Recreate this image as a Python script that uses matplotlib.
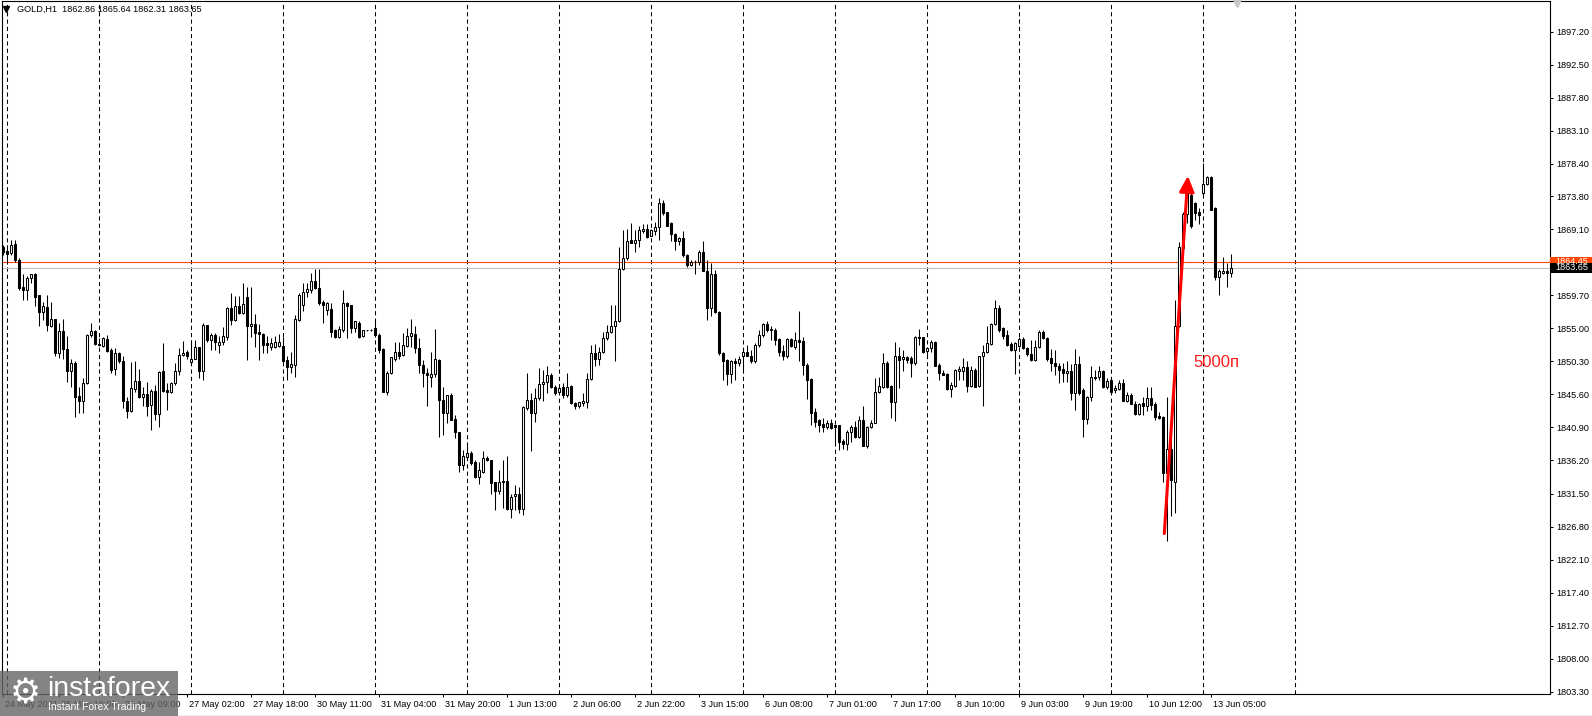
import numpy as np
import matplotlib
matplotlib.use("Agg")
import matplotlib.pyplot as plt
import matplotlib.transforms as mtransforms
from matplotlib.patches import Rectangle
from matplotlib.lines import Line2D

plt.rcParams['font.family'] = ['Liberation Sans', 'DejaVu Sans']

# Datos OHLC (GOLD, H1), vela por vela
opens = [
    1866.6, 1866.0, 1865.7, 1867.0, 1864.7, 1860.9, 1860.4, 1862.1, 1862.8, 1859.7,
    1857.3, 1858.1, 1855.4, 1856.4, 1851.5, 1854.6, 1852.1, 1849.0, 1850.1, 1845.4,
    1844.6, 1847.2, 1854.0, 1854.6, 1852.8, 1852.5, 1853.5, 1851.9, 1849.2, 1851.5,
    1850.4, 1844.7, 1843.2, 1846.4, 1847.5, 1845.3, 1845.6, 1844.1, 1846.1, 1842.8,
    1848.9, 1846.2, 1846.0, 1847.2, 1848.9, 1851.2, 1851.7, 1850.2, 1850.7, 1852.3,
    1849.0, 1855.5, 1853.3, 1854.1, 1852.7, 1853.1, 1853.7, 1857.9, 1856.2, 1858.2,
    1857.2, 1859.4, 1855.3, 1855.6, 1854.5, 1854.2, 1852.9, 1852.4, 1852.4, 1852.5,
    1852.5, 1850.5, 1849.5, 1849.8, 1856.2, 1858.3, 1860.1, 1860.5, 1861.7, 1860.7,
    1858.7, 1857.6, 1857.7, 1854.7, 1853.8, 1854.8, 1858.6, 1858.3, 1855.1, 1855.8,
    1853.9, 1854.7, 1854.8, 1855.1, 1854.1, 1852.0, 1845.9, 1848.6, 1850.7, 1851.7,
    1851.2, 1852.5, 1853.9, 1854.2, 1852.2, 1849.8, 1848.7, 1848.1, 1848.5, 1850.5,
    1844.8, 1843.0, 1845.5, 1842.1, 1840.2, 1835.6, 1836.7, 1837.3, 1836.0, 1833.9,
    1834.5, 1836.5, 1836.3, 1833.1, 1831.9, 1833.3, 1833.3, 1829.3, 1831.1, 1831.5,
    1829.3, 1843.6, 1844.8, 1843.0, 1845.1, 1847.1, 1847.3, 1848.4, 1846.7, 1845.9,
    1846.7, 1845.5, 1846.8, 1844.4, 1844.0, 1844.4, 1844.5, 1847.8, 1851.5, 1850.7,
    1851.6, 1853.6, 1854.5, 1855.3, 1856.0, 1863.4, 1865.0, 1867.6, 1867.2, 1867.5,
    1868.8, 1869.1, 1868.2, 1868.9, 1869.4, 1872.8, 1871.5, 1870.0, 1868.4, 1867.4,
    1867.8, 1865.5, 1864.0, 1864.4, 1864.4, 1865.8, 1863.2, 1857.9, 1862.8, 1857.3,
    1851.5, 1850.5, 1848.5, 1850.4, 1850.1, 1851.1, 1851.6, 1851.1, 1850.3, 1852.6,
    1854.1, 1855.6, 1854.9, 1854.8, 1853.5, 1851.8, 1851.1, 1853.5, 1852.3, 1853.4,
    1853.2, 1849.8, 1847.8, 1843.1, 1841.9, 1841.4, 1840.9, 1841.6, 1841.2, 1841.2,
    1839.0, 1838.6, 1840.3, 1841.0, 1839.6, 1841.9, 1838.3, 1841.0, 1841.6, 1846.0,
    1846.7, 1850.0, 1846.8, 1844.5, 1851.0, 1850.6, 1850.9, 1850.8, 1850.0, 1853.8,
    1853.7, 1851.8, 1852.2, 1853.0, 1849.8, 1848.7, 1848.5, 1846.3, 1846.8, 1849.0,
    1849.0, 1849.5, 1846.8, 1849.1, 1846.8, 1851.0, 1851.6, 1852.8, 1855.6, 1857.9,
    1855.0, 1854.1, 1852.8, 1851.9, 1852.5, 1853.5, 1852.2, 1851.4, 1850.5, 1852.4,
    1854.5, 1853.6, 1850.8, 1850.1, 1849.7, 1849.2, 1848.7, 1848.9, 1845.8, 1849.9,
    1846.2, 1842.1, 1845.2, 1848.1, 1848.1, 1849.0, 1846.6, 1847.6, 1846.2, 1846.4,
    1847.2, 1844.7, 1845.5, 1844.3, 1842.8, 1844.4, 1843.9, 1845.1, 1844.3, 1842.5,
    1842.4, 1834.4, 1837.8, 1833.2, 1855.3, 1866.5, 1871.3, 1874.0, 1872.9, 1871.5,
    1874.2, 1875.6, 1876.5, 1872.1, 1862.3, 1862.9, 1863.1, 1862.86,
]
highs = [
    1866.9, 1866.8, 1867.5, 1867.6, 1865.0, 1862.7, 1862.4, 1862.7, 1862.9, 1859.8,
    1858.8, 1859.7, 1858.8, 1856.4, 1855.7, 1856.4, 1853.9, 1850.7, 1850.3, 1846.6,
    1847.9, 1854.2, 1855.7, 1854.8, 1853.6, 1853.8, 1854.1, 1852.2, 1852.2, 1851.7,
    1851.0, 1845.3, 1850.2, 1850.3, 1849.2, 1846.6, 1847.4, 1846.4, 1846.9, 1849.0,
    1852.9, 1847.2, 1847.3, 1850.0, 1852.2, 1853.2, 1851.9, 1853.3, 1853.3, 1852.4,
    1855.7, 1855.5, 1854.3, 1854.3, 1853.9, 1855.2, 1858.0, 1860.0, 1859.6, 1859.6,
    1861.4, 1860.9, 1860.9, 1857.1, 1855.6, 1854.3, 1853.9, 1853.6, 1853.9, 1854.2,
    1853.7, 1851.0, 1851.7, 1856.9, 1860.0, 1861.4, 1861.4, 1862.9, 1863.5, 1863.5,
    1859.1, 1858.7, 1858.6, 1854.9, 1855.3, 1860.5, 1858.7, 1858.3, 1856.1, 1856.0,
    1854.8, 1854.8, 1854.9, 1856.4, 1854.4, 1852.2, 1848.9, 1850.9, 1853.0, 1853.1,
    1854.3, 1855.0, 1856.4, 1855.3, 1853.6, 1850.5, 1849.3, 1851.7, 1854.9, 1850.6,
    1846.6, 1845.5, 1845.8, 1842.7, 1840.3, 1837.7, 1838.2, 1837.5, 1836.3, 1836.0,
    1837.5, 1836.8, 1836.3, 1833.2, 1834.9, 1836.3, 1836.8, 1831.5, 1832.7, 1832.5,
    1843.9, 1848.6, 1845.8, 1846.5, 1849.3, 1849.1, 1849.6, 1848.6, 1847.0, 1846.7,
    1847.2, 1848.6, 1847.0, 1844.5, 1844.5, 1845.8, 1848.6, 1852.6, 1852.8, 1852.4,
    1854.5, 1855.5, 1858.3, 1858.3, 1866.6, 1869.0, 1869.2, 1870.0, 1869.0, 1869.5,
    1869.9, 1869.9, 1869.2, 1870.2, 1873.5, 1873.3, 1871.6, 1870.2, 1868.5, 1868.0,
    1868.8, 1865.6, 1864.7, 1864.7, 1866.1, 1867.4, 1864.7, 1864.3, 1863.3, 1857.4,
    1851.7, 1850.6, 1850.5, 1850.8, 1851.1, 1852.2, 1852.6, 1851.9, 1852.9, 1854.8,
    1855.8, 1856.0, 1855.3, 1855.0, 1853.6, 1852.6, 1853.6, 1853.6, 1854.5, 1857.4,
    1853.8, 1850.0, 1847.9, 1843.6, 1842.1, 1842.2, 1842.0, 1842.1, 1841.3, 1841.3,
    1839.2, 1840.6, 1841.3, 1841.8, 1842.5, 1843.9, 1841.1, 1842.0, 1847.9, 1848.1,
    1851.5, 1850.3, 1847.0, 1853.0, 1852.4, 1851.9, 1851.0, 1851.0, 1853.9, 1854.9,
    1853.8, 1852.4, 1853.4, 1853.2, 1850.0, 1849.1, 1848.6, 1847.4, 1849.2, 1849.7,
    1850.8, 1850.3, 1849.6, 1849.3, 1851.1, 1852.6, 1855.4, 1855.7, 1859.1, 1858.3,
    1855.2, 1854.7, 1853.1, 1853.0, 1853.8, 1853.7, 1852.4, 1853.4, 1853.3, 1854.8,
    1854.8, 1853.7, 1852.0, 1851.9, 1850.0, 1850.0, 1850.4, 1849.9, 1852.0, 1851.0,
    1846.5, 1845.4, 1849.7, 1849.1, 1849.7, 1849.1, 1847.9, 1847.7, 1847.0, 1847.6,
    1847.8, 1845.9, 1845.8, 1844.6, 1844.4, 1845.3, 1846.6, 1846.6, 1844.5, 1843.1,
    1842.5, 1845.2, 1843.2, 1859.0, 1867.3, 1871.6, 1874.9, 1875.1, 1873.0, 1872.1,
    1878.5, 1876.7, 1876.7, 1872.3, 1863.5, 1865.1, 1864.3, 1865.64,
]
lows = [
    1865.4, 1864.2, 1865.5, 1864.5, 1860.5, 1859.1, 1859.0, 1861.4, 1858.2, 1855.4,
    1856.2, 1854.6, 1855.2, 1851.0, 1850.8, 1850.6, 1847.3, 1846.6, 1842.4, 1842.9,
    1842.9, 1847.1, 1853.8, 1852.6, 1852.5, 1852.4, 1851.7, 1848.6, 1848.4, 1850.0,
    1843.7, 1842.3, 1843.1, 1846.0, 1845.1, 1843.9, 1842.6, 1840.6, 1842.0, 1841.0,
    1846.0, 1843.4, 1845.8, 1847.0, 1848.4, 1851.1, 1850.7, 1850.0, 1850.7, 1847.9,
    1847.6, 1853.1, 1851.9, 1851.9, 1851.5, 1852.6, 1853.4, 1855.5, 1856.1, 1857.1,
    1857.1, 1850.5, 1853.7, 1852.3, 1850.5, 1851.5, 1851.5, 1851.9, 1852.2, 1852.3,
    1850.0, 1847.7, 1848.6, 1848.1, 1856.0, 1857.4, 1859.5, 1860.0, 1860.6, 1858.3,
    1855.7, 1856.9, 1853.8, 1853.6, 1853.6, 1854.5, 1853.6, 1854.3, 1854.5, 1853.6,
    1853.7, 1854.6, 1854.6, 1853.7, 1851.5, 1846.0, 1845.5, 1848.5, 1850.3, 1850.7,
    1851.1, 1852.4, 1852.4, 1851.5, 1848.6, 1846.7, 1844.0, 1846.6, 1848.1, 1839.5,
    1839.8, 1841.5, 1842.0, 1839.4, 1834.6, 1834.9, 1836.3, 1835.6, 1833.7, 1832.9,
    1834.4, 1836.1, 1831.5, 1829.2, 1831.5, 1829.4, 1829.2, 1828.0, 1829.2, 1828.7,
    1828.5, 1843.4, 1837.5, 1841.7, 1844.8, 1844.6, 1845.8, 1846.5, 1845.5, 1845.8,
    1845.1, 1845.3, 1844.3, 1843.5, 1843.7, 1844.0, 1843.6, 1847.7, 1849.6, 1849.8,
    1851.5, 1853.3, 1854.3, 1850.3, 1855.9, 1863.3, 1864.7, 1867.1, 1865.9, 1866.6,
    1868.5, 1867.8, 1868.1, 1868.3, 1867.6, 1871.1, 1869.5, 1867.4, 1866.2, 1866.9,
    1865.2, 1863.7, 1863.8, 1862.8, 1864.0, 1863.1, 1856.2, 1856.7, 1857.2, 1851.2,
    1847.7, 1847.0, 1847.2, 1847.7, 1849.6, 1849.1, 1851.0, 1850.0, 1850.1, 1852.4,
    1853.8, 1854.5, 1853.4, 1852.6, 1851.0, 1850.5, 1850.8, 1852.4, 1852.1, 1850.3,
    1848.3, 1844.9, 1841.3, 1841.0, 1840.3, 1840.2, 1840.7, 1840.7, 1838.7, 1837.7,
    1837.8, 1837.7, 1838.9, 1839.4, 1839.4, 1838.2, 1838.0, 1840.8, 1841.5, 1845.8,
    1846.5, 1846.5, 1842.2, 1841.8, 1846.5, 1848.9, 1850.0, 1848.1, 1849.8, 1852.6,
    1851.5, 1850.8, 1851.7, 1849.7, 1847.7, 1848.3, 1846.2, 1845.2, 1846.7, 1847.6,
    1847.7, 1846.0, 1846.7, 1846.6, 1846.7, 1844.0, 1851.5, 1852.6, 1855.5, 1854.5,
    1853.5, 1852.5, 1851.8, 1848.5, 1852.4, 1852.0, 1851.1, 1850.4, 1850.4, 1852.2,
    1853.5, 1850.3, 1848.9, 1848.4, 1847.2, 1847.4, 1847.4, 1844.8, 1843.4, 1845.5,
    1839.5, 1841.4, 1844.6, 1847.7, 1847.7, 1846.5, 1846.4, 1845.8, 1845.8, 1846.2,
    1844.6, 1844.5, 1844.3, 1842.7, 1842.7, 1842.7, 1843.2, 1843.4, 1842.0, 1842.1,
    1833.1, 1824.7, 1828.3, 1828.7, 1855.2, 1866.4, 1870.0, 1869.3, 1870.4, 1869.9,
    1874.0, 1875.4, 1871.8, 1861.9, 1859.8, 1862.7, 1860.9, 1862.31,
]
closes = [
    1865.9, 1865.6, 1866.9, 1864.7, 1860.8, 1860.4, 1862.1, 1862.7, 1859.5, 1857.3,
    1858.2, 1855.5, 1856.4, 1851.5, 1854.6, 1852.1, 1849.0, 1850.1, 1845.3, 1844.6,
    1847.2, 1854.1, 1854.6, 1852.8, 1852.7, 1853.6, 1851.8, 1849.1, 1851.5, 1850.3,
    1844.6, 1843.2, 1846.5, 1847.5, 1845.3, 1845.6, 1844.0, 1846.1, 1842.8, 1848.8,
    1846.1, 1845.9, 1847.2, 1848.9, 1851.2, 1851.5, 1851.0, 1850.7, 1852.3, 1849.0,
    1855.5, 1853.3, 1854.1, 1853.1, 1853.1, 1853.9, 1857.9, 1856.2, 1858.2, 1857.2,
    1858.5, 1855.3, 1855.6, 1854.4, 1854.2, 1852.7, 1852.7, 1852.9, 1853.1, 1853.1,
    1850.4, 1849.5, 1849.9, 1856.3, 1859.8, 1860.2, 1860.6, 1861.7, 1860.7, 1858.6,
    1858.3, 1858.6, 1854.5, 1853.7, 1854.9, 1858.6, 1858.2, 1855.1, 1856.0, 1853.8,
    1854.7, 1854.8, 1854.7, 1854.1, 1851.9, 1846.0, 1848.6, 1850.9, 1851.7, 1851.0,
    1852.6, 1853.9, 1854.4, 1852.2, 1849.8, 1848.6, 1848.4, 1848.5, 1850.6, 1844.8,
    1843.0, 1845.5, 1842.0, 1840.2, 1835.6, 1836.8, 1837.3, 1835.9, 1833.9, 1834.8,
    1836.5, 1836.2, 1833.0, 1831.9, 1833.1, 1833.1, 1829.3, 1831.0, 1831.5, 1829.3,
    1843.8, 1844.8, 1842.9, 1845.1, 1847.1, 1847.4, 1848.4, 1846.7, 1845.8, 1846.5,
    1845.5, 1846.7, 1844.4, 1843.9, 1844.5, 1844.6, 1847.8, 1851.5, 1850.7, 1851.7,
    1853.6, 1854.5, 1855.4, 1856.1, 1863.4, 1865.0, 1867.4, 1867.2, 1867.6, 1869.0,
    1869.1, 1868.0, 1869.0, 1869.4, 1872.8, 1871.4, 1869.6, 1868.4, 1867.4, 1867.8,
    1865.5, 1864.0, 1864.4, 1864.5, 1865.8, 1863.2, 1857.9, 1862.8, 1857.3, 1851.5,
    1850.3, 1848.5, 1850.4, 1850.1, 1850.6, 1851.6, 1851.0, 1850.3, 1852.6, 1854.1,
    1855.6, 1854.8, 1854.7, 1853.4, 1851.7, 1851.1, 1853.5, 1852.5, 1853.4, 1853.1,
    1849.8, 1847.7, 1842.9, 1841.7, 1841.3, 1840.9, 1841.6, 1840.8, 1841.0, 1838.9,
    1838.6, 1840.3, 1841.0, 1839.6, 1841.9, 1838.3, 1841.0, 1841.6, 1846.0, 1846.8,
    1850.0, 1846.7, 1844.5, 1851.0, 1850.5, 1850.9, 1850.5, 1850.0, 1853.8, 1853.6,
    1851.7, 1852.2, 1853.0, 1849.7, 1848.6, 1848.4, 1846.3, 1847.0, 1849.1, 1849.2,
    1849.5, 1846.8, 1849.1, 1846.7, 1851.0, 1851.6, 1852.9, 1855.6, 1857.9, 1854.8,
    1853.9, 1852.6, 1851.9, 1852.9, 1853.5, 1852.2, 1851.4, 1850.5, 1852.4, 1854.5,
    1853.6, 1850.6, 1850.0, 1849.6, 1849.1, 1848.6, 1848.9, 1845.8, 1849.9, 1845.8,
    1842.1, 1845.3, 1848.1, 1848.0, 1849.0, 1846.6, 1847.5, 1846.0, 1846.5, 1847.2,
    1844.7, 1845.5, 1844.3, 1842.8, 1844.3, 1843.9, 1845.1, 1844.1, 1842.4, 1842.3,
    1834.4, 1837.8, 1833.4, 1855.3, 1866.6, 1871.3, 1874.2, 1869.5, 1871.4, 1871.1,
    1875.6, 1876.5, 1871.9, 1862.3, 1863.1, 1863.1, 1862.9, 1863.65,
]

header = "GOLD,H1  1862.86 1865.64 1862.31 1863.65"
ask_line = 1864.45
bid_line = 1863.65

price_labels = ["1897.20", "1892.50", "1887.80", "1883.10", "1878.40", "1873.80",
                "1869.10", "1864.40", "1859.70", "1855.00", "1850.30", "1845.60",
                "1840.90", "1836.20", "1831.50", "1826.80", "1822.10", "1817.40",
                "1812.70", "1808.00", "1803.30"]
time_labels = ["24 May 2021", "25 May 16:00", "26 May 09:00", "27 May 02:00",
               "27 May 18:00", "30 May 11:00", "31 May 04:00", "31 May 20:00",
               "1 Jun 13:00", "2 Jun 06:00", "2 Jun 22:00", "3 Jun 15:00",
               "6 Jun 08:00", "7 Jun 01:00", "7 Jun 17:00", "8 Jun 10:00",
               "9 Jun 03:00", "9 Jun 19:00", "10 Jun 12:00", "13 Jun 05:00"]

# flecha roja dibujada a mano sobre el grafico
arrow_start = (290.4, 1825.8)
arrow_end = (296.3, 1876.7)
arrow_text = "5000п"

W, H = 1592, 716
fig = plt.figure(figsize=(W / 100, H / 100), dpi=100)
ax = fig.add_axes([1.5 / W, (H - 694) / H, 1548 / W, 693 / H])

o = np.array(opens)
h = np.array(highs)
l = np.array(lows)
c = np.array(closes)
x = np.arange(len(c))
up = c >= o

# cuadricula vertical punteada
for gb in [1 + 23 * k for k in range(15)]:
    ax.axvline(gb, color='black', linewidth=0.75, linestyle=(0, (4, 3)), zorder=1)

# lineas de precio
ax.axhline(ask_line, color='#FF4500', linewidth=0.8, zorder=1.5)
ax.axhline(bid_line, color='#C0C0C0', linewidth=0.8, zorder=1.5)

# velas
ax.vlines(x, l, h, color='black', linewidth=0.75, zorder=2)
bottom = np.minimum(o, c)
height = np.abs(c - o)
ax.bar(x[up], height[up], bottom=bottom[up], width=0.5, facecolor='white',
       edgecolor='black', linewidth=0.75, zorder=3)
ax.bar(x[~up], height[~up], bottom=bottom[~up], width=0.5, facecolor='black',
       edgecolor='black', linewidth=0.75, zorder=3)

ax.set_xlim(-0.29, 386.7)
ax.set_ylim(1802.98, 1901.57)

for s in ax.spines.values():
    s.set_linewidth(0.8)
    s.set_color('black')

ax.yaxis.tick_right()
ax.set_yticks([float(p) for p in price_labels])
ax.set_yticklabels(price_labels)
ax.tick_params(axis='y', direction='out', length=2.5, width=0.75, pad=2.5,
               labelsize=6.6, colors='black')

label_bars = [0] + [14 + 16 * k for k in range(19)]
ax.set_xticks(label_bars)
ax.set_xticklabels(time_labels)
ax.tick_params(axis='x', direction='out', length=2.5, width=0.75, pad=1.5,
               labelsize=6.6, colors='black')
shift = mtransforms.ScaledTranslation(0.02, 0, fig.dpi_scale_trans)
for lbl in ax.get_xticklabels():
    lbl.set_horizontalalignment('left')
    lbl.set_transform(lbl.get_transform() + shift)

# etiquetas de precio en el eje derecho
ytr = ax.get_yaxis_transform()
for val, face in [(ask_line, '#FF4500'), (bid_line, 'black')]:
    ax.add_patch(Rectangle((1.0, val - 0.71), 0.0275, 1.42, transform=ytr,
                           facecolor=face, edgecolor='none', clip_on=False, zorder=6))
    ax.text(1.0036, val, f"{val:.2f}", transform=ytr, color='white', fontsize=6.6,
            ha='left', va='center', clip_on=False, zorder=7)

# flecha y texto
ax.annotate('', xy=arrow_end, xytext=arrow_start,
            arrowprops=dict(arrowstyle='-|>,head_length=0.95,head_width=0.45',
                            color='#FF0000', linewidth=2.2, shrinkA=0, shrinkB=0,
                            mutation_scale=10), zorder=8)
ax.text(297.7, 1850.2, arrow_text, color='#FF1A1A', fontsize=12,
        ha='left', va='center', zorder=8)

# cabecera
fx = lambda px: px / W
fy = lambda py: 1 - py / H
fig.add_artist(Line2D([fx(6)], [fy(9)], marker='v', markersize=4, color='black',
                      transform=fig.transFigure))
fig.text(fx(17), fy(9.5), header, fontsize=6.6, color='black', ha='left', va='center')

# marcador de desplazamiento arriba
fig.add_artist(Line2D([fx(1237)], [fy(2.5)], marker='v', markersize=6,
                      color='#C8C8C8', transform=fig.transFigure))

# logo instaforex
fig.add_artist(Rectangle((0, 0), fx(178), (716 - 670.7) / H, transform=fig.transFigure,
                         facecolor='#666666', alpha=0.8, edgecolor='none', zorder=10))
fig.text(fx(25), fy(693), '⚙', fontsize=25, color='white', ha='center', va='center',
         family=['DejaVu Sans'], zorder=11)
fig.text(fx(47), fy(689), 'instaforex', fontsize=20.4, color='white', ha='left',
         va='center', zorder=11)
fig.text(fx(48), fy(707), 'Instant Forex Trading', fontsize=7.5, color='white',
         ha='left', va='center', zorder=11)

fig.add_artist(Rectangle((0, 0), 1, 1.5 / H, transform=fig.transFigure,
                         facecolor='#F0F0F0', edgecolor='none', zorder=0))

plt.savefig('out.png', dpi=100)
